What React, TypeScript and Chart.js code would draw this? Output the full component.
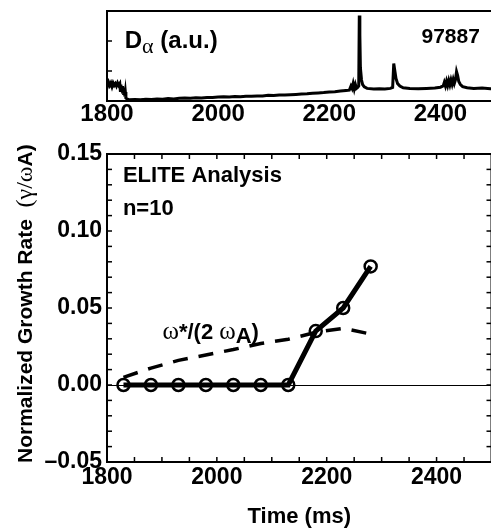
import React, { useEffect, useRef } from 'react';
import { Chart, registerables } from 'chart.js';

Chart.register(...registerables);

// ---------- axes ----------
const X_MIN = 1800;
const X_MAX = 2500;
const X_STEP = 50;
const xLabeledTicks = [1800, 2000, 2200, 2400];

const Y_MIN = -0.05;
const Y_MAX = 0.15;
const Y_STEP = 0.01;
const yLabeledValues = [-0.05, 0, 0.05, 0.1, 0.15];
const yTickLabels = ['\u20130.05', '0.00', '0.05', '0.10', '0.15'];

const DA_MIN = 0;
const DA_MAX = 3;
const daTickValues = [1, 2];

// ---------- D-alpha trace (top panel) ----------
const daTimes = [
  1797, 1799, 1801, 1803, 1805, 1807, 1809, 1811, 1813, 1815, 1817, 1819, 1821, 1823,
  1824, 1825, 1826, 1827, 1828, 1829, 1830, 1831, 1832, 1833, 1834, 1836, 1840, 1850,
  1860, 1870, 1880, 1890, 1900, 1910, 1920, 1930, 1940, 1950, 1960, 1970, 1980, 1990,
  2000, 2010, 2020, 2030, 2040, 2050, 2060, 2070, 2080, 2090, 2100, 2110, 2120, 2130,
  2140, 2150, 2160, 2170, 2180, 2190, 2200, 2210, 2220, 2230, 2236, 2239, 2241, 2243,
  2245, 2247, 2249, 2251, 2253, 2254, 2255, 2256, 2258, 2260, 2263, 2268, 2280, 2290,
  2300, 2310, 2314, 2316, 2318, 2320, 2323, 2327, 2333, 2345, 2360, 2375, 2390, 2400,
  2405, 2407, 2409, 2411, 2413, 2415, 2417, 2419, 2421, 2423, 2425, 2427, 2429, 2431,
  2433, 2436, 2440, 2448, 2460, 2475, 2490, 2500,
];
const daSignal = [
  0.52, 0.6, 0.5, 0.62, 0.52, 0.6, 0.48, 0.6, 0.52, 0.58, 0.5, 0.6, 0.52, 0.58,
  0.35, 0.55, 0.3, 0.5, 0.25, 0.45, 0.2, 0.38, 0.15, 0.3, 0.1, 0.07, 0.04, 0.05,
  0.04, 0.06, 0.05, 0.07, 0.06, 0.08, 0.07, 0.09, 0.1, 0.09, 0.11, 0.1, 0.12, 0.12,
  0.13, 0.14, 0.13, 0.15, 0.14, 0.16, 0.16, 0.17, 0.17, 0.19, 0.18, 0.2, 0.2, 0.21,
  0.22, 0.23, 0.24, 0.26, 0.27, 0.28, 0.3, 0.31, 0.33, 0.35, 0.36, 0.5, 0.42, 0.58,
  0.4, 0.55, 0.42, 0.45, 0.5, 2.85, 2.2, 1.1, 0.7, 0.55, 0.47, 0.42, 0.4, 0.41,
  0.4, 0.42, 0.45, 1.25, 1.0, 0.75, 0.58, 0.5, 0.44, 0.42, 0.41, 0.42, 0.43, 0.46,
  0.5, 0.62, 0.5, 0.66, 0.52, 0.68, 0.54, 0.7, 0.56, 0.72, 0.58, 0.7, 0.98, 0.85,
  0.65, 0.55, 0.48, 0.44, 0.42, 0.43, 0.41, 0.42,
];

// ---------- ELITE analysis (bottom panel) ----------
const eliteTimes = [1830, 1880, 1930, 1980, 2030, 2080, 2130, 2180, 2230, 2280];
const growthRate = [0, 0, 0, 0, 0, 0, 0, 0.035, 0.05, 0.077];
const omegaStarHalf = [0.005, 0.011, 0.016, 0.0195, 0.023, 0.027, 0.0297, 0.0342, 0.0368, 0.0331];

// ---------- fonts ----------
const SANS = '"Liberation Sans", Arial, Helvetica, sans-serif';
const SERIF = '"Liberation Serif", "Times New Roman", serif';
const bold = (n: number) => `bold ${n}px ${SANS}`;
const serif = (n: number) => `${n}px ${SERIF}`;

type Part = { text: string; font: string; dy?: number };
type Note = { t: number; v: number; parts: Part[]; align?: 'left' | 'right' };

const bottomNotes: Note[] = [
  { t: 1829, v: 0.1318, parts: [{ text: 'ELITE Analysis', font: bold(22) }] },
  { t: 1829, v: 0.1104, parts: [{ text: 'n=10', font: bold(22) }] },
  {
    t: 1901,
    v: 0.0299,
    parts: [
      { text: '\u03c9', font: serif(25) },
      { text: '*/(2 ', font: bold(22) },
      { text: '\u03c9', font: serif(25) },
      { text: 'A', font: bold(22), dy: 4 },
      { text: ')', font: bold(22) },
    ],
  },
];

const topNotes: Note[] = [
  {
    t: 1832,
    v: 1.78,
    parts: [
      { text: 'D', font: bold(24) },
      { text: '\u03b1', font: serif(22), dy: 5 },
      { text: ' (a.u.)', font: bold(24) },
    ],
  },
  { t: 2471, v: 1.95, align: 'right', parts: [{ text: '97887', font: bold(21) }] },
];

const yTitleParts: Part[] = [
  { text: 'Normalized Growth Rate  ', font: bold(21) },
  { text: '(\u03b3/\u03c9', font: serif(24) },
  { text: 'A)', font: bold(21) },
];

function drawParts(ctx: CanvasRenderingContext2D, x: number, y: number, parts: Part[], align: 'left' | 'right' = 'left') {
  let total = 0;
  parts.forEach((p) => {
    ctx.font = p.font;
    total += ctx.measureText(p.text).width;
  });
  let cx = align === 'right' ? x - total : x;
  ctx.textAlign = 'left';
  ctx.textBaseline = 'alphabetic';
  ctx.fillStyle = '#000';
  parts.forEach((p) => {
    ctx.font = p.font;
    ctx.fillText(p.text, cx, y + (p.dy || 0));
    cx += ctx.measureText(p.text).width;
  });
}

function seg(ctx: CanvasRenderingContext2D, x1: number, y1: number, x2: number, y2: number) {
  ctx.beginPath();
  ctx.moveTo(x1, y1);
  ctx.lineTo(x2, y2);
  ctx.stroke();
}

const TICK = 5;

const bottomDecor = {
  id: 'bottomDecor',
  beforeDatasetsDraw(chart: any) {
    const { ctx, chartArea: a, scales } = chart;
    const y0 = Math.round(scales.y.getPixelForValue(0)) + 0.5;
    ctx.save();
    ctx.strokeStyle = '#000';
    ctx.lineWidth = 1;
    seg(ctx, a.left, y0, a.right, y0);
    ctx.restore();
  },
  afterDraw(chart: any) {
    const { ctx, chartArea: a, scales } = chart;
    const xs = scales.x;
    const ys = scales.y;
    ctx.save();
    ctx.strokeStyle = '#000';
    ctx.lineWidth = 2;
    ctx.beginPath();
    ctx.moveTo(a.left - 1, a.top);
    ctx.lineTo(a.right, a.top);
    ctx.lineTo(a.right, a.bottom);
    ctx.stroke();
    ctx.lineWidth = 1.5;
    xs.ticks.forEach((t: any) => {
      if (t.value <= X_MIN || t.value >= X_MAX) return;
      const px = xs.getPixelForValue(t.value);
      seg(ctx, px, a.bottom, px, a.bottom - TICK);
      seg(ctx, px, a.top, px, a.top + TICK);
    });
    ys.ticks.forEach((t: any) => {
      if (t.value <= Y_MIN + 1e-9 || t.value >= Y_MAX - 1e-9) return;
      const py = ys.getPixelForValue(t.value);
      seg(ctx, a.left, py, a.left + TICK, py);
      seg(ctx, a.right, py, a.right - TICK, py);
    });
    bottomNotes.forEach((n) => {
      drawParts(ctx, xs.getPixelForValue(n.t), ys.getPixelForValue(n.v), n.parts, n.align);
    });
    ctx.translate(a.left - 75, a.bottom + 1);
    ctx.rotate(-Math.PI / 2);
    drawParts(ctx, 0, 0, yTitleParts);
    ctx.restore();
  },
};

const topDecor = {
  id: 'topDecor',
  afterDraw(chart: any) {
    const { ctx, chartArea: a, scales } = chart;
    const xs = scales.x;
    const ys = scales.y;
    ctx.save();
    ctx.strokeStyle = '#000';
    ctx.lineWidth = 2;
    ctx.beginPath();
    ctx.moveTo(a.left - 1, a.top);
    ctx.lineTo(a.right, a.top);
    ctx.lineTo(a.right, a.bottom);
    ctx.stroke();
    ctx.lineWidth = 1.5;
    daTickValues.forEach((v) => {
      const py = ys.getPixelForValue(v);
      seg(ctx, a.left, py, a.left + TICK, py);
      seg(ctx, a.right, py, a.right - TICK, py);
    });
    topNotes.forEach((n) => {
      drawParts(ctx, xs.getPixelForValue(n.t), ys.getPixelForValue(n.v), n.parts, n.align);
    });
    ctx.restore();
  },
};

const xLabel = (value: any) => (xLabeledTicks.includes(Number(value)) ? String(value) : '');
const yLabel = (value: any) => {
  const i = yLabeledValues.findIndex((v) => Math.abs(v - Number(value)) < 1e-6);
  return i >= 0 ? yTickLabels[i] : '';
};

export default function App() {
  const topRef = useRef<HTMLCanvasElement>(null);
  const botRef = useRef<HTMLCanvasElement>(null);

  useEffect(() => {
    const common = {
      responsive: false,
      animation: false as const,
      devicePixelRatio: 1,
      events: [] as any[],
      plugins: { legend: { display: false }, tooltip: { enabled: false } },
    };

    const top = new Chart(topRef.current!, {
      type: 'line',
      data: {
        datasets: [
          {
            data: daTimes.map((t, i) => ({ x: t, y: daSignal[i] })),
            borderColor: '#000',
            borderWidth: 3,
            pointRadius: 0,
            tension: 0,
          },
        ],
      },
      options: {
        ...common,
        layout: { padding: { top: 11, right: 4, left: 0, bottom: 0 } },
        scales: {
          x: {
            type: 'linear',
            min: X_MIN,
            max: X_MAX,
            ticks: {
              stepSize: X_STEP,
              autoSkip: false,
              maxRotation: 0,
              padding: 1,
              color: '#000',
              font: { family: SANS, size: 24, weight: 'bold', lineHeight: 1 },
              callback: xLabel,
            },
            grid: { display: false, drawTicks: false },
            border: { display: true, color: '#000', width: 2 },
            afterFit: (s: any) => {
              s.height = 29;
            },
          },
          y: {
            min: DA_MIN,
            max: DA_MAX,
            ticks: { display: false },
            grid: { display: false, drawTicks: false },
            border: { display: true, color: '#000', width: 2 },
            afterFit: (s: any) => {
              s.width = 107;
            },
          },
        },
      },
      plugins: [topDecor],
    } as any);

    const bottom = new Chart(botRef.current!, {
      type: 'line',
      data: {
        datasets: [
          {
            label: 'growth',
            data: eliteTimes.map((t, i) => ({ x: t, y: growthRate[i] })),
            borderColor: '#000',
            borderWidth: 5,
            pointRadius: 6,
            pointBorderWidth: 2.5,
            pointBorderColor: '#000',
            pointBackgroundColor: 'rgba(0,0,0,0)',
            tension: 0,
          },
          {
            label: 'omega',
            data: eliteTimes.map((t, i) => ({ x: t, y: omegaStarHalf[i] })),
            borderColor: '#000',
            borderWidth: 3.5,
            borderDash: [15, 11],
            pointRadius: 0,
            tension: 0,
          },
        ],
      },
      options: {
        ...common,
        layout: { padding: { top: 24, right: 4, left: 0, bottom: 0 } },
        scales: {
          x: {
            type: 'linear',
            min: X_MIN,
            max: X_MAX,
            ticks: {
              stepSize: X_STEP,
              autoSkip: false,
              maxRotation: 0,
              padding: 4,
              color: '#000',
              font: { family: SANS, size: 23, weight: 'bold', lineHeight: 1 },
              callback: xLabel,
            },
            title: {
              display: true,
              text: 'Time (ms)',
              color: '#000',
              font: { family: SANS, size: 22, weight: 'bold', lineHeight: 1 },
              padding: { top: 0, bottom: 3 },
            },
            grid: { display: false, drawTicks: false },
            border: { display: true, color: '#000', width: 2 },
            afterFit: (s: any) => {
              s.height = 69;
            },
          },
          y: {
            min: Y_MIN,
            max: Y_MAX,
            ticks: {
              stepSize: Y_STEP,
              autoSkip: false,
              padding: 5,
              color: '#000',
              font: { family: SANS, size: 23, weight: 'bold', lineHeight: 1 },
              callback: yLabel,
            },
            grid: { display: false, drawTicks: false },
            border: { display: true, color: '#000', width: 2 },
            afterFit: (s: any) => {
              s.width = 107;
            },
          },
        },
      },
      plugins: [bottomDecor],
    } as any);

    return () => {
      top.destroy();
      bottom.destroy();
    };
  }, []);

  return (
    <div
      style={{
        position: 'fixed',
        left: 0,
        top: 0,
        width: 491,
        height: 531,
        overflow: 'hidden',
        background: '#fff',
      }}
    >
      <canvas ref={topRef} width={500} height={130} style={{ position: 'absolute', left: 0, top: 0, width: 500, height: 130 }} />
      <canvas ref={botRef} width={500} height={401} style={{ position: 'absolute', left: 0, top: 130, width: 500, height: 401 }} />
    </div>
  );
}
